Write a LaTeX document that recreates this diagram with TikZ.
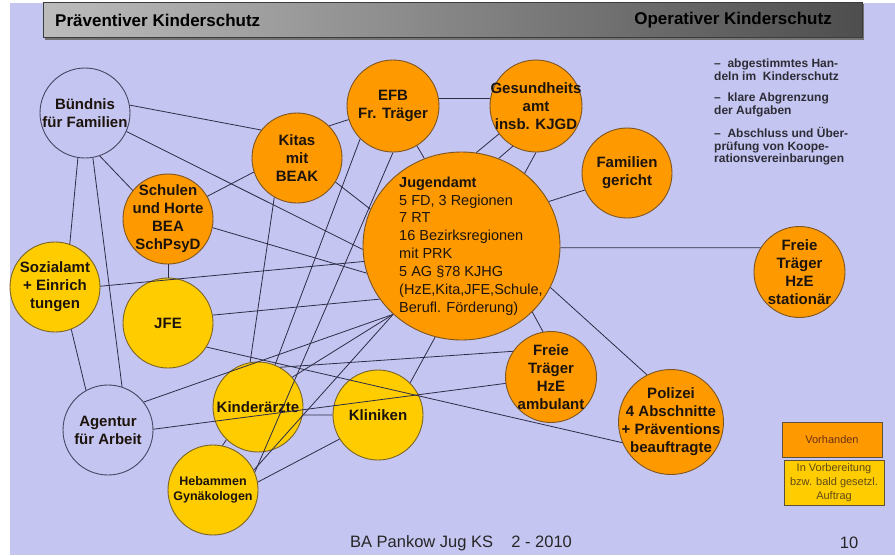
\documentclass[tikz,border=0pt]{standalone}
\usepackage{fontspec}
\setmainfont{Liberation Sans}
\usetikzlibrary{shapes.geometric}
\pgfdeclarelayer{bg}
\pgfdeclarelayer{low}
\pgfdeclarelayer{edges}
\pgfsetlayers{bg,low,edges,main}
\definecolor{bgc}{RGB}{197,197,241}
\definecolor{org}{RGB}{255,153,0}
\definecolor{yel}{RGB}{255,204,0}
\definecolor{edgec}{RGB}{45,45,72}
\definecolor{orgline}{RGB}{125,85,35}
\definecolor{yelline}{RGB}{120,100,40}
\definecolor{wline}{RGB}{70,70,100}
\definecolor{txtc}{RGB}{28,20,12}
\definecolor{hdrL}{RGB}{188,188,188}
\definecolor{hdrR}{RGB}{78,78,78}
\definecolor{hdrB}{RGB}{60,60,60}
\definecolor{notec}{RGB}{45,45,55}
\definecolor{legA}{RGB}{105,50,20}
\definecolor{legB}{RGB}{95,75,20}
\definecolor{legline}{RGB}{95,80,60}
\newcommand\mybubble[5]{%
  \node[#2] (#1) at (#3,#4) {};
  \node[ctext] (#1T) at (#3,#4) {#5};}
\begin{document}
\begin{tikzpicture}[x=1pt,y=-1pt,
  circ/.style={circle,minimum size=90pt,inner sep=0pt,line width=0.9pt},
  orgc/.style={circ,fill=org,draw=orgline},
  yelc/.style={circ,fill=yel,draw=yelline},
  whtc/.style={circ,fill=bgc,draw=wline},
  ctext/.style={align=center,inner sep=0pt,text=txtc,font=\bfseries\fontsize{15}{18}\selectfont},
  conn/.style={draw=edgec,line width=0.8pt},
  note/.style={anchor=north west,align=left,inner sep=0pt,text=notec,font=\bfseries\fontsize{12}{12.6}\selectfont},
  hdr/.style={inner sep=0pt,text=black,font=\bfseries\fontsize{17}{20}\selectfont},
  legbox/.style={rectangle,inner sep=0pt,minimum width=100pt,align=center,draw=legline,line width=0.8pt,font=\fontsize{11}{14}\selectfont}
]
\useasboundingbox (0,0) rectangle (895,555);
\begin{pgfonlayer}{bg}
  \fill[white] (0,0) rectangle (895,555);
  \fill[bgc] (10,3) rectangle (895,555);
\end{pgfonlayer}

% header bar
\fill[black!55] (45,4) rectangle (864,40);
\shade[left color=hdrL,right color=hdrR] (43,2) rectangle (862,37);
\draw[hdrB,line width=0.8pt] (43,2) rectangle (862,37);
\node[hdr,anchor=west] (hl) at (55,20) {Präventiver Kinderschutz};
\node[hdr,anchor=east] (hr) at (832,20) {Operativer Kinderschutz};

% notes
\node[note] (n1) at (714,59) {–\ \ abgestimmtes Han-\\deln im\ \ Kinderschutz};
\node[note] (n2) at (714,93) {–\ \ klare Abgrenzung\\der Aufgaben};
\node[note] (n3) at (714,127) {–\ \ Abschluss und Über-\\prüfung von Koope-\\rationsvereinbarungen};

% bubbles
\begin{pgfonlayer}{low}
\mybubble{bun}{whtc}{85}{113}{Bündnis\\für Familien}
\mybubble{sch}{orgc}{168}{219}{Schulen\\und Horte\\BEA\\SchPsyD}
\mybubble{soz}{yelc}{55}{287}{Sozialamt\\+ Einrich\\tungen}
\mybubble{jfe}{yelc}{168}{323}{JFE}
\mybubble{kit}{orgc}{297}{158}{Kitas\\mit\\BEAK}
\mybubble{efb}{orgc,minimum size=92pt}{393}{106}{EFB\\Fr. Träger}
\mybubble{ges}{orgc,minimum size=92pt}{536}{106}{Gesundheits\\amt\\insb. KJGD}
\mybubble{fam}{orgc}{627}{173}{Familien\\gericht}
\mybubble{fts}{orgc,minimum size=91pt}{799.5}{272}{Freie\\Träger\\HzE\\stationär}
\mybubble{fta}{orgc,minimum size=91pt}{551}{377}{Freie\\Träger\\HzE\\ambulant}
\mybubble{pol}{orgc,minimum size=105pt}{671}{422}{Polizei\\4 Abschnitte\\+ Präventions\\beauftragte}
\mybubble{kin}{yelc}{258}{407}{Kinderärzte}
\mybubble{kli}{yelc}{378}{415}{Kliniken}
\mybubble{age}{whtc}{108}{430}{Agentur\\für Arbeit}
\node[yelc] (heb) at (213,490) {};
\node[ctext,font=\bfseries\fontsize{12.5}{15}\selectfont] (hebT) at (213,490) {Hebammen\\Gynäkologen};
\end{pgfonlayer}

% Jugendamt on top of the lines
\node[ellipse,minimum width=197pt,minimum height=188pt,inner sep=0pt,fill=org,draw=orgline,line width=0.9pt] (jug) at (461.5,246) {};
\node[anchor=west,align=left,inner sep=0pt,text=txtc,font=\fontsize{14.5}{17.9}\selectfont] (jugT) at (399,246)
  {\textbf{Jugendamt}\\5 FD, 3 Regionen\\7 RT\\16 Bezirksregionen\\mit PRK\\5 AG §78 KJHG\\(HzE,Kita,JFE,Schule,\\Berufl. Förderung)};

% connectors
\begin{pgfonlayer}{edges}
\draw[conn] (bun.10) -- (kit.142);
\draw[conn] (bun.-24) -- (jug.182);
\draw[conn] (bun.-71) -- (sch.141);
\draw[conn] (bun.-99) -- (soz.71);
\draw[conn] (bun.-80) -- (age.72);
\draw[conn] (soz.-69) -- (age.119);
\draw[conn] (soz.1) -- (jug.189);
\draw[conn] (sch.30) -- (kit.198);
\draw[conn] (sch.-11) -- (jug.196);
\draw[conn] (sch.south) -- (jfe.north);
\draw[conn] (jfe.10) -- (jug.213);
\draw[conn] (jfe.-32) -- (pol.203);
\draw[conn] (kit.45) -- (efb.197);
\draw[conn] (kit.-32) -- (jug.158);
\draw[conn] (kit.-120) -- (kin.100);
\draw[conn] (efb.10) -- (ges.170);
\draw[conn] (efb.-59) -- (jug.113);
\draw[conn] (efb.-135) -- (kin.68);
\draw[conn] (efb.-90) -- (heb.23);
\draw[conn] (ges.-143) -- (jug.81);
\draw[conn] (ges.-120) -- (jug.67);
\draw[conn] (ges.-90) -- (kli.45);
\draw[conn] (jug.27) -- (fam.202);
\draw[conn] (jug.-1) -- (fts.148);
\draw[conn] (jug.-25) -- (pol.117);
\draw[conn] (jug.-43) -- (fta.100);
\draw[conn] (jug.225) -- (age.38);
\draw[conn] (jug.225) -- (kin.41);
\draw[conn] (jug.225) -- (heb.26);
\draw[conn] (kin.61) -- (fta.146);
\draw[conn] (age.1) -- (fta.188);
\draw[conn] (kin.-10) -- (kli.180);
\draw[conn] (kin.-134) -- (heb.78);
\draw[conn] (heb.10) -- (kli.212);
\end{pgfonlayer}

% legend
\node[legbox,fill=org,minimum height=35pt,text=legA] (leg1) at (832,439.5) {Vorhanden};
\node[legbox,fill=yel,minimum height=45pt,text=legB] (leg2) at (834,482.5) {In Vorbereitung\\bzw. bald gesetzl.\\Auftrag};

% footer
\node[inner sep=0pt,text=black!85,font=\fontsize{16.5}{19}\selectfont] (foot) at (461,543) {BA Pankow Jug KS\hspace{1.1em}2 - 2010};
\node[inner sep=0pt,text=black!85,font=\fontsize{16.5}{19}\selectfont] (pg) at (849,543) {10};
\end{tikzpicture}
\end{document}
